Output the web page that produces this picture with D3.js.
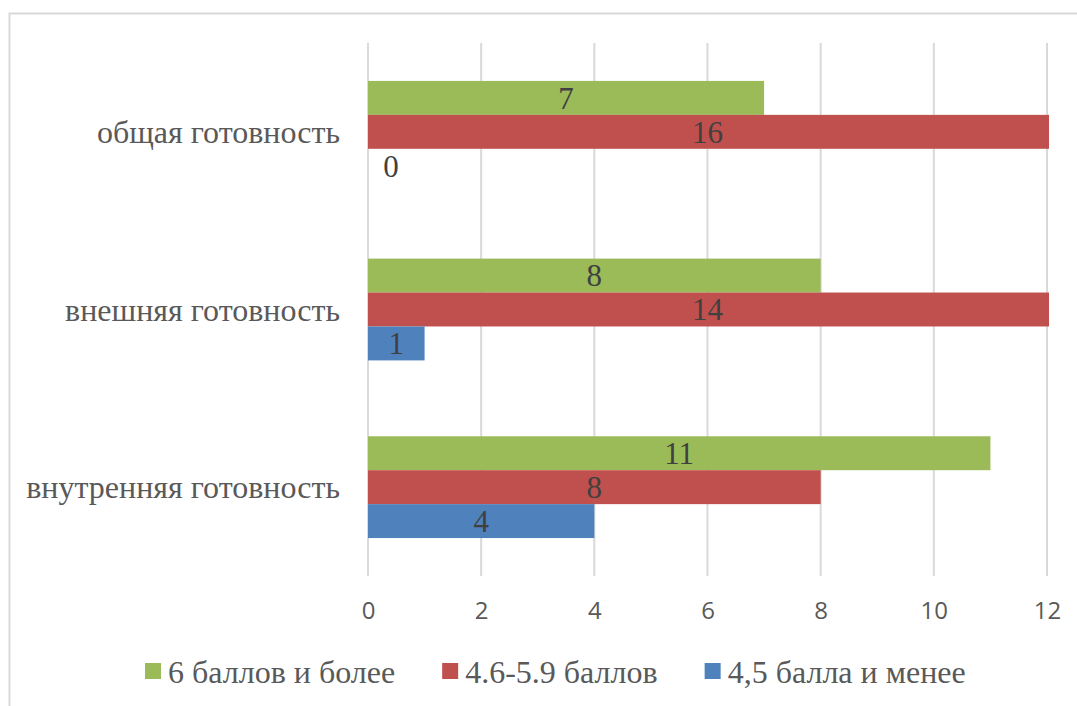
<!DOCTYPE html>
<html><head><meta charset="utf-8">
<script src="https://cdn.jsdelivr.net/npm/d3@7"></script>
<style>
html,body{margin:0;padding:0;background:#fff;}
svg{display:block;}
</style></head>
<body>
<svg id="chart" width="1077" height="706"></svg>
<script>
const categories = ["общая готовность", "внешняя готовность", "внутренняя готовность"];
const seriesNames = ["6 баллов и более", "4.6-5.9 баллов", "4,5 балла и менее"];
const seriesColors = ["#9BBB59", "#C0504D", "#4F81BD"];
const values6plus = [7, 8, 11];
const values46to59 = [16, 14, 8];
const values45less = [0, 1, 4];
const xTicks = [0, 2, 4, 6, 8, 10, 12];
const xMax = 12;

const seriesValues = [values6plus, values46to59, values45less];

(function () {
const svg = d3.select("#chart");
const W = 1077, H = 706;
const pLeft = 368, pRight = 1047, pTop = 43, pBottom = 576;
const serif = "'Liberation Serif', 'Times New Roman', Times, serif";

// chart border
svg.append("rect").attr("x", 9.5).attr("y", 13.5).attr("width", W + 20).attr("height", H + 20)
  .attr("fill", "none").attr("stroke", "#d9d9d9").attr("stroke-width", 2);

const x = d3.scaleLinear().domain([0, xMax]).range([pLeft, pRight]);
const y = d3.scaleBand().domain(categories).range([pTop, pBottom]).paddingInner(0.427).paddingOuter(0.2135);
const ySub = d3.scaleBand().domain(d3.range(seriesNames.length)).range([0, y.bandwidth()]);

// gridlines
svg.append("g").selectAll("line").data(xTicks).join("line")
  .attr("x1", d => x(d)).attr("x2", d => x(d))
  .attr("y1", pTop).attr("y2", pBottom)
  .attr("stroke", "#d9d9d9").attr("stroke-width", 2);

// clip
svg.append("defs").append("clipPath").attr("id", "plotclip")
  .append("rect").attr("x", pLeft - 1).attr("y", pTop).attr("width", pRight - pLeft + 3).attr("height", pBottom - pTop);

const rows = [];
categories.forEach((c, ci) => {
  seriesNames.forEach((s, si) => {
    rows.push({cat: c, si, v: seriesValues[si][ci]});
  });
});

svg.append("g").attr("clip-path", "url(#plotclip)").selectAll("rect").data(rows).join("rect")
  .attr("x", x(0))
  .attr("y", d => y(d.cat) + ySub(d.si))
  .attr("width", d => Math.max(0, x(Math.min(d.v, xMax)) - x(0) + (d.v >= xMax ? 2 : 0)))
  .attr("height", ySub.bandwidth())
  .attr("fill", d => seriesColors[d.si]);

// data labels
svg.append("g").selectAll("text").data(rows).join("text")
  .attr("x", d => d.v === 0 ? x(0) + 23 : (x(0) + x(Math.min(d.v, xMax))) / 2)
  .attr("y", d => y(d.cat) + ySub(d.si) + ySub.bandwidth() / 2)
  .attr("dy", "0.35em")
  .attr("text-anchor", "middle")
  .attr("font-family", serif)
  .attr("font-size", 31)
  .attr("fill", "#404040")
  .text(d => d.v);

// category labels
svg.append("g").selectAll("text").data(categories).join("text")
  .attr("x", 340)
  .attr("y", d => y(d) + y.bandwidth() / 2)
  .attr("dy", "0.35em")
  .attr("text-anchor", "end")
  .attr("font-family", serif)
  .attr("font-size", 32)
  .attr("fill", "#595959")
  .text(d => d);

// x axis tick labels
const ax = svg.append("g").attr("transform", `translate(0,${pBottom + 26})`)
  .call(d3.axisBottom(x).tickValues(xTicks).tickSize(0).tickPadding(0));
ax.select(".domain").remove();
ax.selectAll("text")
  .attr("font-family", "'Open Sans', 'Liberation Sans', sans-serif")
  .attr("font-size", 24)
  .attr("fill", "#595959")
  .attr("dy", "0.71em");

// legend
const lg = svg.append("g");
let lx = 145;
seriesNames.forEach((s, i) => {
  lg.append("rect").attr("x", lx).attr("y", 663).attr("width", 16).attr("height", 16).attr("fill", seriesColors[i]);
  const t = lg.append("text").attr("x", lx + 23).attr("y", 672).attr("dy", "0.35em")
    .attr("font-family", serif)
    .attr("font-size", 32)
    .attr("fill", "#595959")
    .text(s);
  lx += 23 + t.node().getComputedTextLength() + 47;
});
})();
</script>
</body></html>
